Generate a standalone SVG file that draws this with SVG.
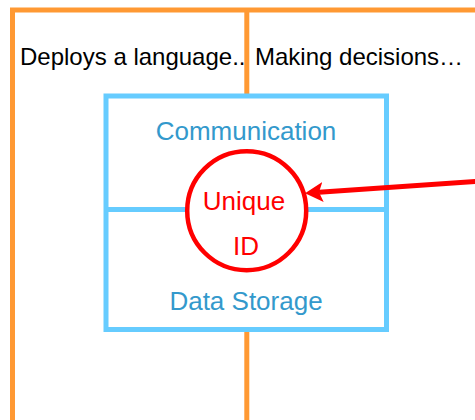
<svg xmlns="http://www.w3.org/2000/svg" width="475" height="420" viewBox="0 0 475 420">
<style>
.frame{fill:none;stroke:#FF9933;stroke-width:5}
.box{fill:#FFFFFF;stroke:#66CCFF;stroke-width:5}
.t{font-family:"Liberation Sans",Arial,sans-serif}
.top{font-size:24px;fill:#000000}
.blue{font-size:26px;fill:#3399CC;text-anchor:middle}
.red{font-size:26px;fill:#FF0000;text-anchor:middle}
</style>
<defs>
<marker id="ah" markerUnits="userSpaceOnUse" markerWidth="20" markerHeight="22" refX="4" refY="11" orient="auto" viewBox="0 0 20 22">
<path d="M0 1 L18 11 L0 21 L4 11 Z" fill="#FF0000"/>
</marker>
</defs>
<rect width="475" height="420" fill="#FFFFFF"/>
<g id="frame">
<path class="frame" d="M12.5 420 V10 H480"/>
<path class="frame" d="M246.8 10 V420"/>
</g>
<g id="lane-left"><text class="t top" x="20" y="65">Deploys a language..</text></g>
<g id="lane-right"><text class="t top" x="255" y="65">Making decisions…</text></g>
<g id="component">
<rect class="box" x="106" y="96" width="280.5" height="233.5"/>
<line class="box" x1="106" y1="209.5" x2="386.5" y2="209.5"/>
<text class="t blue" x="246" y="140">Communication</text>
<text class="t blue" x="246" y="310">Data Storage</text>
</g>
<g id="unique-id">
<circle cx="246.7" cy="210.7" r="59.5" fill="#FFFFFF" stroke="#FF0000" stroke-width="4.5"/>
<text class="t red" x="244" y="210">Unique</text>
<text class="t red" x="246" y="255">ID</text>
</g>
<g id="connectors">
<line x1="476" y1="181.5" x2="319" y2="192.3" stroke="#FF0000" stroke-width="5" marker-end="url(#ah)"/>
</g>
</svg>
